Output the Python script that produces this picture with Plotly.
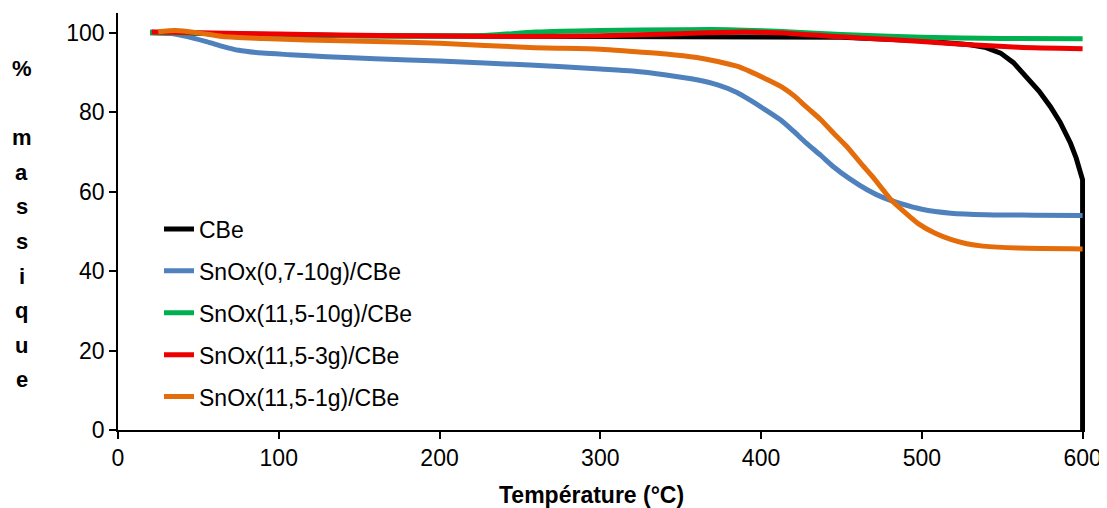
import plotly.graph_objects as go

# ---------------- data ----------------
series_names = ["CBe", "SnOx(0,7-10g)/CBe", "SnOx(11,5-10g)/CBe",
                "SnOx(11,5-3g)/CBe", "SnOx(11,5-1g)/CBe"]

t_cbe = [20, 50, 100, 150, 200, 250, 300, 350, 400, 450, 500, 520, 530, 540, 549,
         557, 565, 573, 580, 586, 592.5, 596, 600, 600]
w_cbe = [100.0, 99.8, 99.5, 99.3, 99.2, 99.1, 99.0, 99.0, 99.0, 98.9, 98.0, 97.5, 97.0,
         96.3, 94.9, 92.5, 89.0, 85.3, 81.4, 77.5, 72.2, 68.5, 63.0, 0.0]

t_sn07 = [20, 30, 40, 55, 65, 75, 90, 107, 130, 160, 200, 256, 300, 320, 341, 360, 373,
          385, 393, 402, 412, 420, 428, 437, 445, 455, 466, 476, 487, 500, 518, 540, 570, 600]
w_sn07 = [100.2, 100.0, 99.3, 97.8, 96.6, 95.6, 94.9, 94.5, 94.0, 93.5, 92.9, 91.9, 90.9,
          90.4, 89.4, 88.2, 86.9, 85.0, 83.1, 80.8, 78.1, 75.3, 72.3, 69.2, 66.3, 63.3,
          60.5, 58.5, 57.0, 55.6, 54.6, 54.2, 54.1, 54.0]

t_sn10 = [20, 50, 100, 150, 200, 230, 260, 300, 350, 380, 410, 450, 500, 550, 600]
w_sn10 = [100.1, 99.9, 99.5, 99.3, 99.2, 99.4, 100.2, 100.6, 100.8, 100.8, 100.4, 99.6,
          98.9, 98.6, 98.5]

t_sn3 = [21, 50, 100, 150, 200, 250, 300, 350, 390, 420, 450, 480, 500, 530, 560, 600]
w_sn3 = [100.2, 100.0, 99.7, 99.4, 99.2, 99.1, 99.3, 99.8, 100.2, 99.8, 99.0, 98.3, 97.8,
         97.0, 96.4, 96.0]

t_sn1 = [25, 36, 50, 65, 90, 117, 160, 200, 256, 300, 320, 341, 360, 373, 385, 393, 403,
         414, 421, 428, 437, 445, 453, 462, 470, 476, 481, 490, 498, 508, 518, 528, 538, 560, 600]
w_sn1 = [100.3, 100.6, 100.0, 99.1, 98.6, 98.2, 97.8, 97.4, 96.3, 95.9, 95.3, 94.7, 93.8,
         92.8, 91.6, 90.3, 88.4, 86.1, 84.0, 81.4, 78.2, 74.8, 71.5, 67.2, 63.5, 60.4,
         57.9, 54.6, 51.9, 49.6, 48.0, 46.9, 46.3, 45.8, 45.6]

x_ticks = [0, 100, 200, 300, 400, 500, 600]
y_ticks = [0, 20, 40, 60, 80, 100]
y_label_letters = ["%", "", "m", "a", "s", "s", "i", "q", "u", "e"]
x_title = "Température (°C)"

colors = ["#000000", "#4F81BD", "#00B050", "#EE0000", "#E46C0A"]
xs = [t_cbe, t_sn07, t_sn10, t_sn3, t_sn1]
ys = [w_cbe, w_sn07, w_sn10, w_sn3, w_sn1]

# ---------------- layout constants (page pixels) ----------------
PAGE_W, PAGE_H = 1107, 508
OFF = 8                      # default body margin of the html page
W, H = PAGE_W - OFF, PAGE_H - OFF
PLOT_L, PLOT_R, PLOT_T, PLOT_B = 118, 1085, 13, 430   # in page pixels
ML, MR = PLOT_L - OFF, PAGE_W - PLOT_R
MT, MB = PLOT_T - OFF, PAGE_H - PLOT_B
PW, PH = W - ML - MR, H - MT - MB
FONT = "Arial, Liberation Sans, sans-serif"


def px_to_paper_x(px):
    return (px - PLOT_L) / PW


def px_to_paper_y(py):
    return (PLOT_B - py) / PH


fig = go.Figure()
for i, name in enumerate(series_names):
    fig.add_trace(go.Scatter(
        x=xs[i], y=ys[i], mode="lines", name=name,
        legendgroup=name,
        line=dict(color=colors[i], width=5,
                  shape="linear" if i == 0 else "spline", smoothing=0.7),
        hoverinfo="x+y+name",
    ))

annotations = []
for k, ch in enumerate(y_label_letters):
    if not ch:
        continue
    annotations.append(dict(
        text=f"<b>{ch}</b>", x=px_to_paper_x(21.5), y=px_to_paper_y(68.5 + 34.6 * k),
        xref="paper", yref="paper", showarrow=False, xanchor="center", yanchor="middle",
        font=dict(family=FONT, size=22, color="#000000")))
annotations.append(dict(
    text=f"<b>{x_title}</b>", x=px_to_paper_x(591.5), y=px_to_paper_y(495.5),
    xref="paper", yref="paper", showarrow=False, xanchor="center", yanchor="middle",
    font=dict(family=FONT, size=23, color="#000000")))

fig.update_layout(
    width=W, height=H,
    margin=dict(l=ML, r=MR, t=MT, b=MB, pad=0),
    paper_bgcolor="white", plot_bgcolor="white",
    font=dict(family=FONT, size=22, color="#000000"),
    showlegend=True,
    legend=dict(x=px_to_paper_x(159), y=px_to_paper_y(207.5), xanchor="left", yanchor="top",
                bgcolor="rgba(0,0,0,0)", tracegroupgap=9,
                font=dict(family=FONT, size=23, color="#000000")),
    xaxis=dict(range=[0, 601.5], tickmode="array", tickvals=x_ticks,
               showline=True, linecolor="#000000", linewidth=1.5,
               ticks="outside", ticklen=7, tickwidth=1.5, tickcolor="#000000",
               showgrid=False, zeroline=False,
               tickfont=dict(family=FONT, size=23, color="#000000")),
    yaxis=dict(range=[0, 105], tickmode="array", tickvals=y_ticks,
               showline=True, linecolor="#000000", linewidth=1.5,
               ticks="outside", ticklen=7, tickwidth=1.5, tickcolor="#000000",
               showgrid=False, zeroline=False,
               tickfont=dict(family=FONT, size=23, color="#000000")),
    annotations=annotations,
)

fig.write_html("out.html")
